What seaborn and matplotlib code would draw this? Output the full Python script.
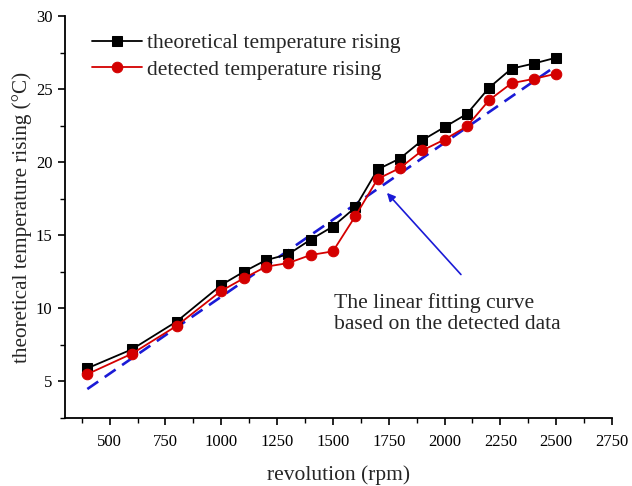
import numpy as np
import pandas as pd
import matplotlib
matplotlib.use("Agg")
import matplotlib.pyplot as plt
from matplotlib.ticker import MultipleLocator
import seaborn as sns

# Revolution speeds (rpm) and temperature rise readings (°C)
revolution = [400, 600, 800, 1000, 1100, 1200, 1300, 1400, 1500, 1600,
              1700, 1800, 1900, 2000, 2100, 2200, 2300, 2400, 2500]
theoretical = [5.9, 7.2, 9.1, 11.6, 12.5, 13.3, 13.7, 14.7, 15.6, 16.9,
               19.5, 20.25, 21.5, 22.4, 23.3, 25.1, 26.4, 26.75, 27.15]
detected = [5.5, 6.9, 8.8, 11.2, 12.05, 12.85, 13.1, 13.65, 13.9, 16.3,
            18.85, 19.6, 20.8, 21.55, 22.45, 24.25, 25.4, 25.7, 26.05]

x_ticks = [500, 750, 1000, 1250, 1500, 1750, 2000, 2250, 2500, 2750]
y_ticks = [5, 10, 15, 20, 25, 30]

sns.set_style("ticks")
plt.rcParams["font.family"] = ["Liberation Serif", "DejaVu Serif"]
plt.rcParams["xtick.direction"] = "out"
plt.rcParams["ytick.direction"] = "out"

df = pd.DataFrame({"revolution": revolution,
                   "theoretical": theoretical,
                   "detected": detected})

W, H = 632, 486
fig = plt.figure(figsize=(W / 100, H / 100), dpi=100)
ax = fig.add_axes([65 / W, 1 - 418 / H, 547 / W, 402 / H])

# Linear fit through the detected readings
slope, intercept = np.polyfit(df["revolution"], df["detected"], 1)
fit_x = np.array([revolution[0], revolution[-1]])
ax.plot(fit_x, slope * fit_x + intercept, color="#1a1ad6", lw=1.9,
        linestyle=(0, (5, 3)), zorder=1)

sns.lineplot(data=df, x="revolution", y="theoretical", ax=ax, color="black",
             marker="s", markersize=6.8, markeredgecolor="black", lw=1.3,
             label="theoretical temperature rising", zorder=3)
sns.lineplot(data=df, x="revolution", y="detected", ax=ax, color="#d40000",
             marker="o", markersize=7.6, markeredgecolor="#d40000", lw=1.3,
             label="detected temperature rising", zorder=4)

ax.set_xlim(300, 2750)
ax.set_ylim(2.5, 30)
ax.set_xticks(x_ticks)
ax.set_yticks(y_ticks)
ax.xaxis.set_minor_locator(MultipleLocator(125))
ax.yaxis.set_minor_locator(MultipleLocator(2.5))
ax.tick_params(which="major", length=5, width=1.2, labelsize=12, colors="black")
ax.tick_params(which="minor", length=3.5, width=1.0, colors="black")
ax.tick_params(axis="x", which="major", pad=6.5)
ax.tick_params(axis="y", which="major", pad=4)
for s in ("left", "bottom"):
    ax.spines[s].set_linewidth(1.3)
    ax.spines[s].set_color("black")
sns.despine(ax=ax)

ax.set_xlabel("revolution (rpm)", fontsize=15.5, labelpad=11)
ax.set_ylabel("theoretical temperature rising (°C)", fontsize=15.2, labelpad=3)

leg = ax.legend(loc="upper left", frameon=False, fontsize=15.5,
                bbox_to_anchor=(27 / 547, 1 - 17 / 402), handlelength=2.3,
                handletextpad=0.25, borderaxespad=0, borderpad=0,
                labelspacing=0.3)

ax.annotate("The linear fitting curve\nbased on the detected data",
            xy=(1742, 17.9), xytext=(1505, 9.65), fontsize=15.6,
            ha="left", va="center", linespacing=1.15,
            arrowprops=dict(arrowstyle="-|>", color="#1a1ad6", lw=1.2,
                            mutation_scale=12, shrinkA=0, shrinkB=0,
                            relpos=(0.56, 1.45)))

fig.savefig("out.png", dpi=100)
